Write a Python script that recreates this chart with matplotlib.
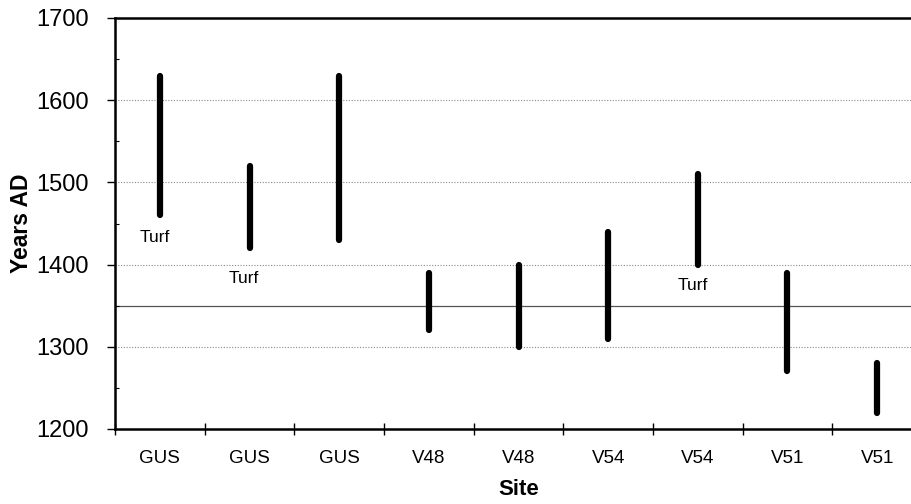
import numpy as np
import matplotlib.pyplot as plt
from matplotlib.ticker import MultipleLocator

plt.rcParams['font.family'] = ['Liberation Sans', 'DejaVu Sans']

sites = ['GUS', 'GUS', 'GUS', 'V48', 'V48', 'V54', 'V54', 'V51', 'V51']
upper = [1630, 1520, 1630, 1390, 1400, 1440, 1510, 1390, 1280]
lower = [1460, 1420, 1430, 1320, 1300, 1310, 1400, 1270, 1220]
turf_idx = [0, 1, 6]
turf_y = [1433, 1383, 1375]
ref_line = 1350

fig = plt.figure(figsize=(9.11, 5.04), dpi=100)
# axes runs past the right edge, as in the scanned original
ax = fig.add_axes([115 / 911, 1 - 429 / 504, 807 / 911, 411 / 504])

x = np.arange(len(sites)) + 0.5
ax.vlines(x, lower, upper, colors='black', linewidth=4.5, capstyle='round')
for i, y in zip(turf_idx, turf_y):
    ax.text(x[i] - 0.06, y, 'Turf', ha='center', va='center', fontsize=12.5)

ax.axhline(ref_line, color='#555555', linewidth=0.9, zorder=1)
for y in [1300, 1400, 1500, 1600]:
    ax.axhline(y, color='#888888', linewidth=0.8, linestyle=(0, (1, 1.5)), zorder=0)

ax.set_xlim(0, len(sites))
ax.set_ylim(1200, 1700)
ax.set_xticks(np.arange(len(sites) + 1))
ax.set_xticklabels([])
ax.set_xticks(x, minor=True)
ax.set_xticklabels(sites, minor=True, fontsize=13.5)
ax.tick_params(axis='x', which='major', direction='inout', length=8, width=1)
ax.tick_params(axis='x', which='minor', length=0, pad=15)
ax.yaxis.set_major_locator(MultipleLocator(100))
ax.yaxis.set_minor_locator(MultipleLocator(50))
ax.tick_params(axis='y', which='major', direction='out', length=6, width=1,
               labelsize=17, pad=13)
ax.tick_params(axis='y', which='minor', direction='in', length=3, width=0.8)

for s in ['left', 'top', 'bottom']:
    ax.spines[s].set_linewidth(1.8)
ax.spines['right'].set_visible(False)

ax.set_ylabel('Years AD', fontsize=16.5, fontweight='bold', labelpad=2)
ax.set_xlabel('Site', fontsize=16, fontweight='bold', labelpad=9)

fig.savefig('out.png', dpi=100)
